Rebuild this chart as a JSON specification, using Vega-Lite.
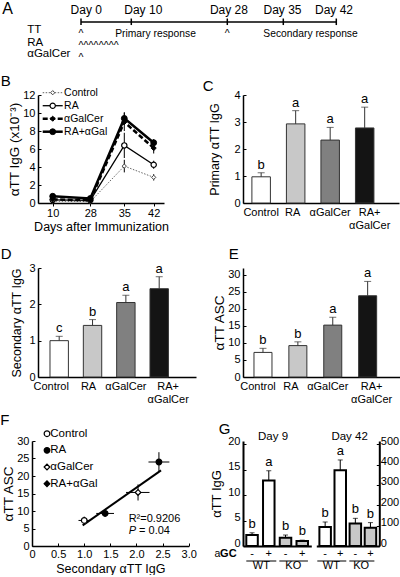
{
"$schema": "https://vega.github.io/schema/vega-lite/v6.json",
"background": "white",
"padding": 0,
"columns": 3,
"align": "each",
"bounds": "flush",
"spacing": 0,
"config": {
  "font": "Liberation Sans",
  "view": {"stroke": null},
  "axis": {"domainColor": "#000", "domainWidth": 1.5, "tickColor": "#000", "tickWidth": 1, "labelColor": "#000", "titleColor": "#000", "labelFontSize": 11, "titleFontSize": 12.5, "titleFontWeight": "normal", "grid": false, "labelOverlap": false, "labelBound": false, "labelFlush": false},
  "title": {"fontSize": 15, "fontWeight": "normal", "anchor": "start", "frame": "group", "baseline": "alphabetic", "offset": 0, "color": "#000"},
  "text": {"color": "#000"}
},
"datasets": {
  "one": [{}],
  "aDays": [{"day": 0}, {"day": 10}, {"day": 28}, {"day": 35}, {"day": 42}],
  "aDayLabels": [{"label": "Day 0", "at": 1.05}, {"label": "Day 10", "at": 12.25}, {"label": "Day 28", "at": 28.2}, {"label": "Day 35", "at": 34.9}, {"label": "Day 42", "at": 41.7}],
  "aRows": [{"name": "TT", "row": 2}, {"name": "RA", "row": 3}, {"name": "αGalCer", "row": 4}],
  "aDoses": [{"name": "TT", "row": 2, "day": 0}, {"name": "TT", "row": 2, "day": 28}, {"name": "RA", "row": 3, "day": 0}, {"name": "RA", "row": 3, "day": 1}, {"name": "RA", "row": 3, "day": 2}, {"name": "RA", "row": 3, "day": 3}, {"name": "RA", "row": 3, "day": 4}, {"name": "RA", "row": 3, "day": 5}, {"name": "RA", "row": 3, "day": 6}, {"name": "RA", "row": 3, "day": 7}, {"name": "αGalCer", "row": 4, "day": 0}],
  "aPhases": [{"label": "Primary response", "from": 6.8}, {"label": "Secondary response", "from": 32.5}],
  "bSeries": [
    {"group": "Control", "day": 10, "mean": 0.2, "low": 0.12, "high": 0.28},
    {"group": "Control", "day": 28, "mean": 0.15, "low": 0.1, "high": 0.2},
    {"group": "Control", "day": 35, "mean": 4.1, "low": 3.4, "high": 4.8},
    {"group": "Control", "day": 42, "mean": 2.85, "low": 2.5, "high": 3.2},
    {"group": "RA", "day": 10, "mean": 0.35, "low": 0.25, "high": 0.45},
    {"group": "RA", "day": 28, "mean": 0.3, "low": 0.2, "high": 0.4},
    {"group": "RA", "day": 35, "mean": 6.4, "low": 5.0, "high": 7.8},
    {"group": "RA", "day": 42, "mean": 4.25, "low": 3.8, "high": 4.7},
    {"group": "αGalCer", "day": 10, "mean": 0.4, "low": 0.3, "high": 0.5},
    {"group": "αGalCer", "day": 28, "mean": 0.3, "low": 0.2, "high": 0.4},
    {"group": "αGalCer", "day": 35, "mean": 9.0, "low": 8.0, "high": 10.0},
    {"group": "αGalCer", "day": 42, "mean": 6.1, "low": 5.5, "high": 6.7},
    {"group": "RA+αGal", "day": 10, "mean": 0.75, "low": 0.55, "high": 0.95},
    {"group": "RA+αGal", "day": 28, "mean": 0.5, "low": 0.4, "high": 0.6},
    {"group": "RA+αGal", "day": 35, "mean": 9.4, "low": 8.7, "high": 10.1},
    {"group": "RA+αGal", "day": 42, "mean": 6.7, "low": 6.3, "high": 7.1}
  ],
  "groups4": [{"group": "Control"}, {"group": "RA"}, {"group": "αGalCer"}, {"group": "RA+αGal"}],
  "cBars": [{"group": "Control", "mean": 0.97, "upper": 1.12, "sig": "b"}, {"group": "RA", "mean": 2.93, "upper": 3.42, "sig": "a"}, {"group": "αGalCer", "mean": 2.33, "upper": 2.8, "sig": "a"}, {"group": "RA+αGalCer", "mean": 2.78, "upper": 3.55, "sig": "a"}],
  "dBars": [{"group": "Control", "mean": 1.0, "upper": 1.12, "sig": "c"}, {"group": "RA", "mean": 1.42, "upper": 1.58, "sig": "b"}, {"group": "αGalCer", "mean": 2.05, "upper": 2.25, "sig": "a"}, {"group": "RA+αGalCer", "mean": 2.43, "upper": 2.76, "sig": "a"}],
  "eBars": [{"group": "Control", "mean": 7.2, "upper": 8.4, "sig": "b"}, {"group": "RA", "mean": 9.2, "upper": 10.3, "sig": "b"}, {"group": "αGalCer", "mean": 15.2, "upper": 17.5, "sig": "a"}, {"group": "RA+αGalCer", "mean": 23.8, "upper": 28.0, "sig": "a"}],
  "fPoints": [
    {"group": "Control", "igg": 1.0, "asc": 7.3, "iggLow": 0.89, "iggHigh": 1.11, "ascLow": 6.2, "ascHigh": 8.4},
    {"group": "RA", "igg": 1.4, "asc": 9.3, "iggLow": 1.23, "iggHigh": 1.57, "ascLow": 8.5, "ascHigh": 10.1},
    {"group": "αGalCer", "igg": 2.03, "asc": 15.3, "iggLow": 1.8, "iggHigh": 2.25, "ascLow": 13.0, "ascHigh": 17.6},
    {"group": "RA+αGal", "igg": 2.43, "asc": 24.0, "iggLow": 2.23, "iggHigh": 2.63, "ascLow": 21.2, "ascHigh": 26.8}
  ],
  "fFit": [{"igg": 0.97, "asc": 5.9, "iggEnd": 2.47, "ascEnd": 21.6}],
  "gDay9": [{"cond": "WT-", "gc": "-", "geno": "WT", "mean": 2.16, "upper": 2.6, "sig": "b"}, {"cond": "WT+", "gc": "+", "geno": "WT", "mean": 12.9, "upper": 14.8, "sig": "a"}, {"cond": "KO-", "gc": "-", "geno": "KO", "mean": 1.64, "upper": 2.16, "sig": "b"}, {"cond": "KO+", "gc": "+", "geno": "KO", "mean": 0.98, "upper": 1.15, "sig": "b"}],
  "gDay42": [{"cond": "WT-", "gc": "-", "geno": "WT", "mean": 93, "upper": 118, "sig": "b"}, {"cond": "WT+", "gc": "+", "geno": "WT", "mean": 372, "upper": 423, "sig": "a"}, {"cond": "KO-", "gc": "-", "geno": "KO", "mean": 110, "upper": 136, "sig": "b"}, {"cond": "KO+", "gc": "+", "geno": "KO", "mean": 90, "upper": 115, "sig": "b"}]
},
"concat": [
  {"width": 5.5, "height": 62,
   "layer": [
    {"data": {"values": [{"start": 0, "end": 42}]}, "mark": {"type": "rule", "color": "#000", "strokeWidth": 1.5},
     "encoding": {"x": {"field": "start", "type": "quantitative", "scale": {"domain": [0, 10, 28, 35, 42], "range": [49, 99.3, 195.3, 251.3, 304.3], "nice": false, "zero": false}, "axis": null}, "x2": {"field": "end"},
      "y": {"datum": 1, "type": "quantitative", "scale": {"domain": [0, 1, 2, 3, 4], "range": [13.5, 22, 33.3, 45.7, 57.3], "nice": false, "zero": false}, "axis": null}}},
    {"data": {"name": "aDays"}, "mark": {"type": "rule", "color": "#000", "strokeWidth": 1.5},
     "encoding": {"x": {"field": "day", "type": "quantitative", "scale": {"domain": [0, 10, 28, 35, 42], "range": [49, 99.3, 195.3, 251.3, 304.3], "nice": false, "zero": false}, "axis": null},
      "y": {"datum": 0.59, "type": "quantitative", "scale": {"domain": [0, 1, 2, 3, 4], "range": [13.5, 22, 33.3, 45.7, 57.3], "nice": false, "zero": false}, "axis": null}, "y2": {"datum": 1.27}}},
    {"data": {"name": "aDayLabels"}, "mark": {"type": "text", "align": "center", "baseline": "alphabetic", "fontSize": 12},
     "encoding": {"x": {"field": "at", "type": "quantitative", "scale": {"domain": [0, 10, 28, 35, 42], "range": [49, 99.3, 195.3, 251.3, 304.3], "nice": false, "zero": false}, "axis": null},
      "y": {"datum": 0, "type": "quantitative", "scale": {"domain": [0, 1, 2, 3, 4], "range": [13.5, 22, 33.3, 45.7, 57.3], "nice": false, "zero": false}, "axis": null}, "text": {"field": "label"}}},
    {"data": {"name": "aRows"}, "mark": {"type": "text", "align": "left", "baseline": "alphabetic", "fontSize": 11.5},
     "encoding": {"x": {"datum": -10.68, "type": "quantitative", "scale": {"domain": [0, 10, 28, 35, 42], "range": [49, 99.3, 195.3, 251.3, 304.3], "nice": false, "zero": false}, "axis": null},
      "y": {"field": "row", "type": "quantitative", "scale": {"domain": [0, 1, 2, 3, 4], "range": [13.5, 22, 33.3, 45.7, 57.3], "nice": false, "zero": false}, "axis": null}, "text": {"field": "name"}}},
    {"data": {"name": "aDoses"}, "mark": {"type": "text", "text": "^", "align": "center", "baseline": "alphabetic", "fontSize": 10.5, "dy": 3.5},
     "encoding": {"x": {"field": "day", "type": "quantitative", "scale": {"domain": [0, 10, 28, 35, 42], "range": [49, 99.3, 195.3, 251.3, 304.3], "nice": false, "zero": false}, "axis": null},
      "y": {"field": "row", "type": "quantitative", "scale": {"domain": [0, 1, 2, 3, 4], "range": [13.5, 22, 33.3, 45.7, 57.3], "nice": false, "zero": false}, "axis": null}}},
    {"data": {"name": "aPhases"}, "mark": {"type": "text", "align": "left", "baseline": "alphabetic", "fontSize": 10.3, "dy": 3.4},
     "encoding": {"x": {"field": "from", "type": "quantitative", "scale": {"domain": [0, 10, 28, 35, 42], "range": [49, 99.3, 195.3, 251.3, 304.3], "nice": false, "zero": false}, "axis": null},
      "y": {"datum": 2, "type": "quantitative", "scale": {"domain": [0, 1, 2, 3, 4], "range": [13.5, 22, 33.3, 45.7, 57.3], "nice": false, "zero": false}, "axis": null}, "text": {"field": "label"}}},
    {"data": {"name": "one"}, "mark": {"type": "text", "text": "A", "align": "left", "baseline": "alphabetic", "fontSize": 16},
     "encoding": {"x": {"datum": -15.65, "type": "quantitative", "scale": {"domain": [0, 10, 28, 35, 42], "range": [49, 99.3, 195.3, 251.3, 304.3], "nice": false, "zero": false}, "axis": null},
      "y": {"datum": 0, "type": "quantitative", "scale": {"domain": [0, 1, 2, 3, 4], "range": [13.5, 22, 33.3, 45.7, 57.3], "nice": false, "zero": false}, "axis": null}}}
   ]},
  {"width": 205, "height": 62, "data": {"name": "one"}, "mark": {"type": "text", "text": ""}},
  {"width": 1, "height": 62, "data": {"name": "one"}, "mark": {"type": "text", "text": ""}},

  {"width": 1, "height": 33, "data": {"name": "one"}, "mark": {"type": "text", "text": ""}},
  {"width": 1, "height": 33, "data": {"name": "one"}, "mark": {"type": "text", "text": ""}},
  {"width": 1, "height": 33, "data": {"name": "one"}, "mark": {"type": "text", "text": ""}},

  {"width": 1, "height": 108, "data": {"name": "one"}, "mark": {"type": "text", "text": ""}},
  {"width": 126, "height": 108,
   "title": {"text": "B", "dx": -37.2, "dy": 5},
   "layer": [
    {"data": {"name": "bSeries"},
     "encoding": {
      "x": {"field": "day", "type": "quantitative", "scale": {"domain": [3, 10, 28, 35, 42, 44.45], "range": [0, 14.7, 52.3, 86.3, 115.7, 126], "nice": false, "zero": false}, "axis": {"values": [10, 28, 35, 42], "tickCount": 100, "format": "d", "title": "Days after Immunization", "tickSize": 3, "labelPadding": 1, "titlePadding": 2}},
      "y": {"field": "mean", "type": "quantitative", "scale": {"domain": [0, 12], "nice": false}, "axis": {"values": [0, 2, 4, 6, 8, 10, 12], "tickCount": 100, "format": "d", "title": "αTT IgG (x10⁻³)", "titleFontSize": 13.5, "tickSize": -3, "labelPadding": 6, "titlePadding": 1}}
     },
     "layer": [
      {"transform": [{"filter": "datum.group === 'Control'"}], "mark": {"type": "line", "color": "#555", "strokeWidth": 0.9, "strokeDash": [1.5, 1.5]}, "encoding": {}},
      {"transform": [{"filter": "datum.group === 'RA'"}], "mark": {"type": "line", "color": "#000", "strokeWidth": 1.3}, "encoding": {}},
      {"transform": [{"filter": "datum.group === 'αGalCer'"}], "mark": {"type": "line", "color": "#000", "strokeWidth": 2.5, "strokeDash": [5, 2.5]}, "encoding": {}},
      {"transform": [{"filter": "datum.group === 'RA+αGal'"}], "mark": {"type": "line", "color": "#000", "strokeWidth": 2.5}, "encoding": {}},
      {"mark": {"type": "rule", "color": "#000", "strokeWidth": 1}, "encoding": {"y": {"field": "low", "type": "quantitative"}, "y2": {"field": "high"}}},
      {"transform": [{"filter": "datum.group === 'Control'"}], "mark": {"type": "point", "shape": "diamond", "filled": true, "fill": "#fff", "stroke": "#444", "strokeWidth": 1, "size": 18, "opacity": 1}},
      {"transform": [{"filter": "datum.group === 'RA'"}], "mark": {"type": "point", "shape": "circle", "filled": true, "fill": "#fff", "stroke": "#000", "strokeWidth": 1.2, "size": 28, "opacity": 1}},
      {"transform": [{"filter": "datum.group === 'αGalCer'"}], "mark": {"type": "point", "shape": "diamond", "filled": true, "fill": "#000", "stroke": "#000", "strokeWidth": 1, "size": 26, "opacity": 1}},
      {"transform": [{"filter": "datum.group === 'RA+αGal'"}], "mark": {"type": "point", "shape": "circle", "filled": true, "fill": "#000", "stroke": "#000", "strokeWidth": 1, "size": 34, "opacity": 1}}
     ]},
    {"data": {"name": "groups4"},
     "encoding": {"y": {"field": "group", "type": "nominal", "sort": null, "scale": {"type": "point", "domain": ["Control", "RA", "αGalCer", "RA+αGal"], "range": [-2.3, 36.7], "padding": 0}, "axis": null}},
     "layer": [
      {"transform": [{"filter": "datum.group === 'Control'"}], "mark": {"type": "rule", "color": "#555", "strokeWidth": 0.9, "strokeDash": [1.5, 1.5]}, "encoding": {"x": {"datum": 0, "type": "quantitative", "scale": {"domain": [0, 1], "range": [4.7, 24.7], "nice": false, "zero": false}, "axis": null}, "x2": {"datum": 1}}},
      {"transform": [{"filter": "datum.group === 'RA'"}], "mark": {"type": "rule", "color": "#000", "strokeWidth": 1.3}, "encoding": {"x": {"datum": 0, "type": "quantitative", "scale": {"domain": [0, 1], "range": [4.7, 24.7], "nice": false, "zero": false}, "axis": null}, "x2": {"datum": 1}}},
      {"transform": [{"filter": "datum.group === 'αGalCer'"}], "mark": {"type": "rule", "color": "#000", "strokeWidth": 2.5, "strokeDash": [5, 2.5]}, "encoding": {"x": {"datum": 0, "type": "quantitative", "scale": {"domain": [0, 1], "range": [4.7, 24.7], "nice": false, "zero": false}, "axis": null}, "x2": {"datum": 1}}},
      {"transform": [{"filter": "datum.group === 'RA+αGal'"}], "mark": {"type": "rule", "color": "#000", "strokeWidth": 2.5}, "encoding": {"x": {"datum": 0, "type": "quantitative", "scale": {"domain": [0, 1], "range": [4.7, 24.7], "nice": false, "zero": false}, "axis": null}, "x2": {"datum": 1}}},
      {"transform": [{"filter": "datum.group === 'Control'"}], "mark": {"type": "point", "shape": "diamond", "filled": true, "fill": "#fff", "stroke": "#444", "strokeWidth": 1, "size": 18, "opacity": 1}, "encoding": {"x": {"datum": 0.5, "type": "quantitative", "scale": {"domain": [0, 1], "range": [4.7, 24.7], "nice": false, "zero": false}, "axis": null}}},
      {"transform": [{"filter": "datum.group === 'RA'"}], "mark": {"type": "point", "shape": "circle", "filled": true, "fill": "#fff", "stroke": "#000", "strokeWidth": 1.2, "size": 28, "opacity": 1}, "encoding": {"x": {"datum": 0.5, "type": "quantitative", "scale": {"domain": [0, 1], "range": [4.7, 24.7], "nice": false, "zero": false}, "axis": null}}},
      {"transform": [{"filter": "datum.group === 'αGalCer'"}], "mark": {"type": "point", "shape": "diamond", "filled": true, "fill": "#000", "stroke": "#000", "strokeWidth": 1, "size": 26, "opacity": 1}, "encoding": {"x": {"datum": 0.5, "type": "quantitative", "scale": {"domain": [0, 1], "range": [4.7, 24.7], "nice": false, "zero": false}, "axis": null}}},
      {"transform": [{"filter": "datum.group === 'RA+αGal'"}], "mark": {"type": "point", "shape": "circle", "filled": true, "fill": "#000", "stroke": "#000", "strokeWidth": 1, "size": 34, "opacity": 1}, "encoding": {"x": {"datum": 0.5, "type": "quantitative", "scale": {"domain": [0, 1], "range": [4.7, 24.7], "nice": false, "zero": false}, "axis": null}}},
      {"mark": {"type": "text", "align": "left", "baseline": "middle", "fontSize": 10.5}, "encoding": {"x": {"datum": 1.07, "type": "quantitative", "scale": {"domain": [0, 1], "range": [4.7, 24.7], "nice": false, "zero": false}, "axis": null}, "text": {"field": "group"}}}
     ]}
   ],
   "resolve": {"scale": {"x": "independent", "y": "independent"}}},
  {"width": 156, "height": 108,
   "title": {"text": "C", "dx": -40.2, "dy": 9},
   "data": {"name": "cBars"},
   "encoding": {"x": {"field": "group", "type": "nominal", "sort": null, "scale": {"domain": ["Control", "RA", "αGalCer", "RA+αGalCer"], "paddingInner": 0.464, "paddingOuter": 0.492, "align": 0.262},
     "axis": {"title": null, "ticks": false, "labelAngle": 0, "labelPadding": 3, "labelExpr": "datum.value === 'RA+αGalCer' ? ['RA+', 'αGalCer'] : datum.value", "labelOffset": {"condition": [{"test": "datum.value === 'RA'", "value": -3}, {"test": "datum.value === 'RA+αGalCer'", "value": 5}], "value": 0}}}},
   "layer": [
    {"mark": {"type": "bar", "stroke": "#333", "strokeWidth": 1}, "encoding": {"y": {"field": "mean", "type": "quantitative", "scale": {"domain": [0, 4], "nice": false}, "axis": {"values": [0, 1, 2, 3, 4], "tickCount": 100, "format": "d", "title": "Primary αTT IgG", "tickSize": -3, "labelPadding": 6, "titlePadding": 12}}, "fill": {"field": "group", "type": "nominal", "scale": {"domain": ["Control", "RA", "αGalCer", "RA+αGalCer"], "range": ["#ffffff", "#c8c8c8", "#808080", "#141414"]}, "legend": null}}},
    {"mark": {"type": "rule", "color": "#333", "strokeWidth": 1}, "encoding": {"y": {"field": "mean", "type": "quantitative"}, "y2": {"field": "upper"}}},
    {"mark": {"type": "tick", "color": "#333", "thickness": 1, "size": 7}, "encoding": {"y": {"field": "upper", "type": "quantitative"}}},
    {"mark": {"type": "text", "baseline": "alphabetic", "dy": -4, "fontSize": 13}, "encoding": {"y": {"field": "upper", "type": "quantitative"}, "text": {"field": "sig"}}}
   ]},

  {"width": 1, "height": 64.7, "data": {"name": "one"}, "mark": {"type": "text", "text": ""}},
  {"width": 1, "height": 64.7, "data": {"name": "one"}, "mark": {"type": "text", "text": ""}},
  {"width": 1, "height": 64.7, "data": {"name": "one"}, "mark": {"type": "text", "text": ""}},

  {"width": 1, "height": 109, "data": {"name": "one"}, "mark": {"type": "text", "text": ""}},
  {"width": 158, "height": 109,
   "title": {"text": "D", "dx": -37.2, "dy": 3.5},
   "data": {"name": "dBars"},
   "encoding": {"x": {"field": "group", "type": "nominal", "sort": null, "scale": {"domain": ["Control", "RA", "αGalCer", "RA+αGalCer"], "paddingInner": 0.448, "paddingOuter": 0.594, "align": 0.303},
     "axis": {"title": null, "ticks": false, "labelAngle": 0, "labelPadding": 3, "labelExpr": "datum.value === 'RA+αGalCer' ? ['RA+', 'αGalCer'] : datum.value", "labelOffset": {"condition": [{"test": "datum.value === 'Control'", "value": -8}, {"test": "datum.value === 'RA'", "value": -4}, {"test": "datum.value === 'RA+αGalCer'", "value": 9}], "value": 0}}}},
   "layer": [
    {"mark": {"type": "bar", "stroke": "#333", "strokeWidth": 1}, "encoding": {"y": {"field": "mean", "type": "quantitative", "scale": {"domain": [0, 3], "nice": false}, "axis": {"values": [0, 1, 2, 3], "tickCount": 100, "format": "d", "title": "Secondary αTT IgG", "tickSize": -3, "labelPadding": 6, "titlePadding": 5}}, "fill": {"field": "group", "type": "nominal", "scale": {"domain": ["Control", "RA", "αGalCer", "RA+αGalCer"], "range": ["#ffffff", "#c8c8c8", "#808080", "#141414"]}, "legend": null}}},
    {"mark": {"type": "rule", "color": "#333", "strokeWidth": 1}, "encoding": {"y": {"field": "mean", "type": "quantitative"}, "y2": {"field": "upper"}}},
    {"mark": {"type": "tick", "color": "#333", "thickness": 1, "size": 7}, "encoding": {"y": {"field": "upper", "type": "quantitative"}}},
    {"mark": {"type": "text", "baseline": "alphabetic", "dy": -4, "fontSize": 13}, "encoding": {"y": {"field": "upper", "type": "quantitative"}, "text": {"field": "sig"}}}
   ]},
  {"width": 157.3, "height": 109,
   "title": {"text": "E", "dx": -14.2, "dy": -1},
   "data": {"name": "eBars"},
   "encoding": {"x": {"field": "group", "type": "nominal", "sort": null, "scale": {"domain": ["Control", "RA", "αGalCer", "RA+αGalCer"], "paddingInner": 0.484, "paddingOuter": 0.496, "align": 0.317},
     "axis": {"title": null, "ticks": false, "labelAngle": 0, "labelPadding": 3, "labelExpr": "datum.value === 'RA+αGalCer' ? ['RA+', 'αGalCer'] : datum.value", "labelOffset": {"condition": [{"test": "datum.value === 'Control'", "value": -5}, {"test": "datum.value === 'RA'", "value": -7}, {"test": "datum.value === 'αGalCer'", "value": -5}, {"test": "datum.value === 'RA+αGalCer'", "value": 4}], "value": 0}}}},
   "layer": [
    {"mark": {"type": "bar", "stroke": "#333", "strokeWidth": 1}, "encoding": {"y": {"field": "mean", "type": "quantitative", "scale": {"domain": [0, 31.93], "nice": false}, "axis": {"values": [0, 5, 10, 15, 20, 25, 30], "tickCount": 100, "format": "d", "title": "αTT ASC", "titleFontSize": 13.5, "tickSize": -3, "labelPadding": 6, "titlePadding": 1}}, "fill": {"field": "group", "type": "nominal", "scale": {"domain": ["Control", "RA", "αGalCer", "RA+αGalCer"], "range": ["#ffffff", "#c8c8c8", "#808080", "#141414"]}, "legend": null}}},
    {"mark": {"type": "rule", "color": "#333", "strokeWidth": 1}, "encoding": {"y": {"field": "mean", "type": "quantitative"}, "y2": {"field": "upper"}}},
    {"mark": {"type": "tick", "color": "#333", "thickness": 1, "size": 7}, "encoding": {"y": {"field": "upper", "type": "quantitative"}}},
    {"mark": {"type": "text", "baseline": "alphabetic", "dy": -4, "fontSize": 13}, "encoding": {"y": {"field": "upper", "type": "quantitative"}, "text": {"field": "sig"}}}
   ]},

  {"width": 1, "height": 63.3, "data": {"name": "one"}, "mark": {"type": "text", "text": ""}},
  {"width": 1, "height": 63.3, "data": {"name": "one"}, "mark": {"type": "text", "text": ""}},
  {"width": 1, "height": 63.3, "data": {"name": "one"}, "mark": {"type": "text", "text": ""}},

  {"width": 5.5, "height": 105,
   "title": {"text": "F", "dx": -31.7, "dy": 4},
   "layer": [
    {"layer": [
     {"data": {"name": "fFit"}, "mark": {"type": "rule", "color": "#000", "strokeWidth": 2},
      "encoding": {"x": {"field": "igg", "type": "quantitative", "scale": {"domain": [0, 3], "range": [0, 156.7], "nice": false, "zero": false}, "axis": {"values": [0, 0.5, 1, 1.5, 2, 2.5, 3], "tickCount": 100, "labelExpr": "datum.value === 0 ? '0' : format(datum.value, '.1f')", "title": "Secondary αTT IgG", "tickSize": -3, "labelPadding": 5, "titlePadding": 3}}, "x2": {"field": "iggEnd"},
       "y": {"field": "asc", "type": "quantitative", "scale": {"domain": [0, 30], "nice": false, "zero": false}, "axis": {"values": [0, 5, 10, 15, 20, 25, 30], "tickCount": 100, "format": "d", "title": "αTT ASC", "titleFontSize": 13.5, "tickSize": -3, "labelPadding": 6, "titlePadding": 1}}, "y2": {"field": "ascEnd"}}},
     {"data": {"name": "fPoints"}, "mark": {"type": "rule", "color": "#000", "strokeWidth": 1},
      "encoding": {"x": {"field": "iggLow", "type": "quantitative", "scale": {"domain": [0, 3], "range": [0, 156.7], "nice": false, "zero": false}}, "x2": {"field": "iggHigh"}, "y": {"field": "asc", "type": "quantitative", "scale": {"domain": [0, 30], "nice": false, "zero": false}}}},
     {"data": {"name": "fPoints"}, "mark": {"type": "rule", "color": "#000", "strokeWidth": 1},
      "encoding": {"x": {"field": "igg", "type": "quantitative", "scale": {"domain": [0, 3], "range": [0, 156.7], "nice": false, "zero": false}}, "y": {"field": "ascLow", "type": "quantitative", "scale": {"domain": [0, 30], "nice": false, "zero": false}}, "y2": {"field": "ascHigh"}}},
     {"data": {"name": "fPoints"}, "mark": {"type": "point", "filled": true, "stroke": "#000", "strokeWidth": 1.2, "size": 32, "opacity": 1},
      "encoding": {"x": {"field": "igg", "type": "quantitative", "scale": {"domain": [0, 3], "range": [0, 156.7], "nice": false, "zero": false}}, "y": {"field": "asc", "type": "quantitative", "scale": {"domain": [0, 30], "nice": false, "zero": false}},
       "shape": {"field": "group", "type": "nominal", "scale": {"domain": ["Control", "RA", "αGalCer", "RA+αGal"], "range": ["circle", "circle", "diamond", "circle"]}, "legend": null},
       "fill": {"field": "group", "type": "nominal", "scale": {"domain": ["Control", "RA", "αGalCer", "RA+αGal"], "range": ["#ffffff", "#000000", "#ffffff", "#000000"]}, "legend": null}}},
     {"data": {"name": "one"}, "mark": {"type": "text", "text": "R²=0.9206", "align": "left", "baseline": "alphabetic", "fontSize": 11},
      "encoding": {"x": {"datum": 1.85, "type": "quantitative", "scale": {"domain": [0, 3], "range": [0, 156.7], "nice": false, "zero": false}}, "y": {"datum": 7.0, "type": "quantitative", "scale": {"domain": [0, 30], "nice": false, "zero": false}}}},
     {"data": {"name": "one"}, "mark": {"type": "text", "text": "P", "fontStyle": "italic", "align": "left", "baseline": "alphabetic", "fontSize": 11},
      "encoding": {"x": {"datum": 1.85, "type": "quantitative", "scale": {"domain": [0, 3], "range": [0, 156.7], "nice": false, "zero": false}}, "y": {"datum": 3.5, "type": "quantitative", "scale": {"domain": [0, 30], "nice": false, "zero": false}}}},
     {"data": {"name": "one"}, "mark": {"type": "text", "text": "= 0.04", "align": "left", "baseline": "alphabetic", "fontSize": 11},
      "encoding": {"x": {"datum": 2.05, "type": "quantitative", "scale": {"domain": [0, 3], "range": [0, 156.7], "nice": false, "zero": false}}, "y": {"datum": 3.5, "type": "quantitative", "scale": {"domain": [0, 30], "nice": false, "zero": false}}}}
    ]},
    {"data": {"name": "groups4"},
     "encoding": {"y": {"field": "group", "type": "nominal", "sort": null, "scale": {"type": "point", "domain": ["Control", "RA", "αGalCer", "RA+αGal"], "range": [-7.3, 42.7], "padding": 0}, "axis": null}},
     "layer": [
      {"mark": {"type": "point", "filled": true, "stroke": "#000", "strokeWidth": 1.2, "size": 32, "opacity": 1},
       "encoding": {"x": {"datum": 0, "type": "quantitative", "scale": {"domain": [0, 1], "range": [15, 18.3], "nice": false, "zero": false}, "axis": null},
        "shape": {"field": "group", "type": "nominal", "scale": {"domain": ["Control", "RA", "αGalCer", "RA+αGal"], "range": ["circle", "circle", "diamond", "diamond"]}, "legend": null},
        "fill": {"field": "group", "type": "nominal", "scale": {"domain": ["Control", "RA", "αGalCer", "RA+αGal"], "range": ["#ffffff", "#000000", "#ffffff", "#000000"]}, "legend": null}}},
      {"mark": {"type": "text", "align": "left", "baseline": "middle", "fontSize": 11.5},
       "encoding": {"x": {"datum": 1, "type": "quantitative", "scale": {"domain": [0, 1], "range": [15, 18.3], "nice": false, "zero": false}, "axis": null}, "text": {"field": "group"}}}
     ]}
   ],
   "resolve": {"scale": {"x": "independent", "y": "independent", "shape": "independent", "fill": "independent"}}},
  {"width": 1, "height": 105, "data": {"name": "one"}, "mark": {"type": "text", "text": ""}},
  {"width": 136.3, "height": 105,
   "title": {"text": "G", "dx": -24.2, "dy": 10},
   "layer": [
    {"data": {"name": "gDay9"},
     "encoding": {"x": {"field": "cond", "type": "nominal", "sort": null, "scale": {"domain": ["WT-", "WT+", "KO-", "KO+"], "range": [0, 68.3], "paddingInner": 0.3126, "paddingOuter": 0.197}, "axis": {"orient": "bottom", "labels": false, "ticks": false, "title": null, "domainWidth": 2}}},
     "layer": [
      {"mark": {"type": "bar", "stroke": "#000", "strokeWidth": 2}, "encoding": {"y": {"field": "mean", "type": "quantitative", "scale": {"domain": [0, 20.65], "nice": false, "zero": false}, "axis": {"orient": "left", "values": [0, 5, 10, 15, 20], "tickCount": 100, "format": "d", "labelOffset": -3, "title": "αTT IgG", "titleFontSize": 13, "tickSize": -3, "labelPadding": 6, "titlePadding": 4, "domainWidth": 2}}, "fill": {"field": "geno", "type": "nominal", "scale": {"domain": ["WT", "KO"], "range": ["#ffffff", "#8c8c8c"]}, "legend": null}}},
      {"mark": {"type": "rule", "color": "#000", "strokeWidth": 1}, "encoding": {"y": {"field": "mean", "type": "quantitative", "scale": {"domain": [0, 20.65], "nice": false, "zero": false}}, "y2": {"field": "upper"}}},
      {"mark": {"type": "tick", "color": "#000", "thickness": 1, "size": 5}, "encoding": {"y": {"field": "upper", "type": "quantitative", "scale": {"domain": [0, 20.65], "nice": false, "zero": false}}}},
      {"mark": {"type": "text", "baseline": "alphabetic", "dy": -5, "fontSize": 13}, "encoding": {"y": {"field": "upper", "type": "quantitative", "scale": {"domain": [0, 20.65], "nice": false, "zero": false}}, "text": {"field": "sig"}}},
      {"mark": {"type": "text", "baseline": "alphabetic", "fontSize": 11}, "encoding": {"y": {"datum": -2.1, "type": "quantitative", "scale": {"domain": [0, 20.65], "nice": false, "zero": false}}, "text": {"field": "gc"}}}
     ]},
    {"data": {"name": "gDay42"},
     "encoding": {"x": {"field": "cond", "type": "nominal", "sort": null, "scale": {"domain": ["WT-", "WT+", "KO-", "KO+"], "range": [73.3, 136.3], "paddingInner": 0.238, "paddingOuter": 0.205}, "axis": {"orient": "bottom", "labels": false, "ticks": false, "title": null, "domainWidth": 2}}},
     "layer": [
      {"mark": {"type": "bar", "stroke": "#000", "strokeWidth": 2}, "encoding": {"y": {"field": "mean", "type": "quantitative", "scale": {"domain": [0, 516.2], "nice": false, "zero": false}, "axis": {"orient": "right", "values": [0, 100, 200, 300, 400, 500], "tickCount": 100, "format": "d", "labelOffset": -3, "title": null, "tickSize": -3, "labelPadding": 4, "domainWidth": 2}}, "fill": {"field": "geno", "type": "nominal", "scale": {"domain": ["WT", "KO"], "range": ["#ffffff", "#8c8c8c"]}, "legend": null}}},
      {"mark": {"type": "rule", "color": "#000", "strokeWidth": 1}, "encoding": {"y": {"field": "mean", "type": "quantitative", "scale": {"domain": [0, 516.2], "nice": false, "zero": false}}, "y2": {"field": "upper"}}},
      {"mark": {"type": "tick", "color": "#000", "thickness": 1, "size": 5}, "encoding": {"y": {"field": "upper", "type": "quantitative", "scale": {"domain": [0, 516.2], "nice": false, "zero": false}}}},
      {"mark": {"type": "text", "baseline": "alphabetic", "dy": -5, "fontSize": 13}, "encoding": {"y": {"field": "upper", "type": "quantitative", "scale": {"domain": [0, 516.2], "nice": false, "zero": false}}, "text": {"field": "sig"}}},
      {"mark": {"type": "text", "baseline": "alphabetic", "fontSize": 11}, "encoding": {"y": {"datum": -52.5, "type": "quantitative", "scale": {"domain": [0, 516.2], "nice": false, "zero": false}}, "text": {"field": "gc"}}}
     ]},
    {"data": {"name": "one"},
     "layer": [
      {"mark": {"type": "rule", "color": "#000", "strokeWidth": 1}, "encoding": {"x": {"datum": -0.343, "type": "quantitative", "scale": {"domain": [0, 3], "range": [9.05, 59.24], "nice": false, "zero": false}, "axis": null}, "x2": {"datum": 1.45}, "y": {"datum": -2.95, "type": "quantitative", "scale": {"domain": [0, 20.65], "nice": false, "zero": false}, "axis": null}}},
      {"mark": {"type": "rule", "color": "#000", "strokeWidth": 1}, "encoding": {"x": {"datum": 1.63, "type": "quantitative", "scale": {"domain": [0, 3], "range": [9.05, 59.24], "nice": false, "zero": false}, "axis": null}, "x2": {"datum": 3.34}, "y": {"datum": -2.95, "type": "quantitative", "scale": {"domain": [0, 20.65], "nice": false, "zero": false}, "axis": null}}},
      {"mark": {"type": "text", "text": "WT", "baseline": "alphabetic", "fontSize": 11}, "encoding": {"x": {"datum": 0.553, "type": "quantitative", "scale": {"domain": [0, 3], "range": [9.05, 59.24], "nice": false, "zero": false}, "axis": null}, "y": {"datum": -4.5, "type": "quantitative", "scale": {"domain": [0, 20.65], "nice": false, "zero": false}, "axis": null}}},
      {"mark": {"type": "text", "text": "KO", "baseline": "alphabetic", "fontSize": 11}, "encoding": {"x": {"datum": 2.466, "type": "quantitative", "scale": {"domain": [0, 3], "range": [9.05, 59.24], "nice": false, "zero": false}, "axis": null}, "y": {"datum": -4.5, "type": "quantitative", "scale": {"domain": [0, 20.65], "nice": false, "zero": false}, "axis": null}}},
      {"mark": {"type": "text", "text": "Day 9", "baseline": "alphabetic", "fontSize": 11.5}, "encoding": {"x": {"datum": 1.252, "type": "quantitative", "scale": {"domain": [0, 3], "range": [9.05, 59.24], "nice": false, "zero": false}, "axis": null}, "y": {"datum": 20.85, "type": "quantitative", "scale": {"domain": [0, 20.65], "nice": false, "zero": false}, "axis": null}}},
      {"mark": {"type": "text", "text": "a", "align": "left", "baseline": "alphabetic", "fontSize": 10.5}, "encoding": {"x": {"datum": -2.25, "type": "quantitative", "scale": {"domain": [0, 3], "range": [9.05, 59.24], "nice": false, "zero": false}, "axis": null}, "y": {"datum": -2.2, "type": "quantitative", "scale": {"domain": [0, 20.65], "nice": false, "zero": false}, "axis": null}}},
      {"mark": {"type": "text", "text": "GC", "fontWeight": "bold", "align": "left", "baseline": "alphabetic", "fontSize": 11}, "encoding": {"x": {"datum": -1.91, "type": "quantitative", "scale": {"domain": [0, 3], "range": [9.05, 59.24], "nice": false, "zero": false}, "axis": null}, "y": {"datum": -2.2, "type": "quantitative", "scale": {"domain": [0, 20.65], "nice": false, "zero": false}, "axis": null}}}
     ]},
    {"data": {"name": "one"},
     "layer": [
      {"mark": {"type": "rule", "color": "#000", "strokeWidth": 1}, "encoding": {"x": {"datum": -0.52, "type": "quantitative", "scale": {"domain": [0, 3], "range": [82.15, 127.45], "nice": false, "zero": false}, "axis": null}, "x2": {"datum": 1.4}, "y": {"datum": -73.8, "type": "quantitative", "scale": {"domain": [0, 516.2], "nice": false, "zero": false}, "axis": null}}},
      {"mark": {"type": "rule", "color": "#000", "strokeWidth": 1}, "encoding": {"x": {"datum": 1.6, "type": "quantitative", "scale": {"domain": [0, 3], "range": [82.15, 127.45], "nice": false, "zero": false}, "axis": null}, "x2": {"datum": 3.26}, "y": {"datum": -73.8, "type": "quantitative", "scale": {"domain": [0, 516.2], "nice": false, "zero": false}, "axis": null}}},
      {"mark": {"type": "text", "text": "WT", "baseline": "alphabetic", "fontSize": 11}, "encoding": {"x": {"datum": 0.407, "type": "quantitative", "scale": {"domain": [0, 3], "range": [82.15, 127.45], "nice": false, "zero": false}, "axis": null}, "y": {"datum": -112.5, "type": "quantitative", "scale": {"domain": [0, 516.2], "nice": false, "zero": false}, "axis": null}}},
      {"mark": {"type": "text", "text": "KO", "baseline": "alphabetic", "fontSize": 11}, "encoding": {"x": {"datum": 2.39, "type": "quantitative", "scale": {"domain": [0, 3], "range": [82.15, 127.45], "nice": false, "zero": false}, "axis": null}, "y": {"datum": -112.5, "type": "quantitative", "scale": {"domain": [0, 516.2], "nice": false, "zero": false}, "axis": null}}},
      {"mark": {"type": "text", "text": "Day 42", "baseline": "alphabetic", "fontSize": 11.5}, "encoding": {"x": {"datum": 1.62, "type": "quantitative", "scale": {"domain": [0, 3], "range": [82.15, 127.45], "nice": false, "zero": false}, "axis": null}, "y": {"datum": 521.2, "type": "quantitative", "scale": {"domain": [0, 516.2], "nice": false, "zero": false}, "axis": null}}}
     ]}
   ],
   "resolve": {"scale": {"x": "independent", "y": "independent"}, "axis": {"x": "independent", "y": "independent"}}}
]
}
